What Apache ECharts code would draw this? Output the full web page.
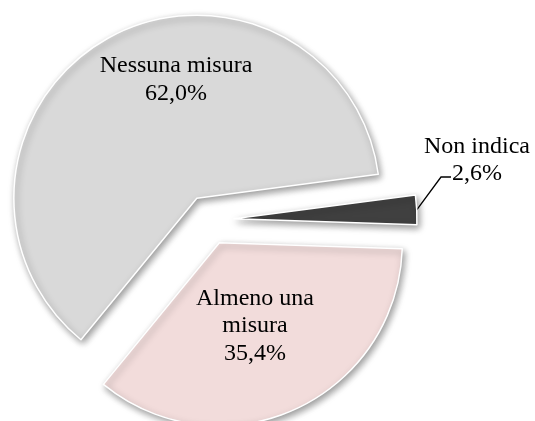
<!DOCTYPE html>
<html><head><meta charset="utf-8">
<script src="https://cdn.jsdelivr.net/npm/echarts@6/dist/echarts.min.js"></script>
<style>html,body{margin:0;padding:0;background:#fff}#c{width:535px;height:421px}</style>
</head><body><div id="c"></div>
<script>
const categories = ['Nessuna misura', 'Non indica', 'Almeno una misura'];
const labelNames = ['Nessuna misura', 'Non indica', 'Almeno una\nmisura'];
const values = [62.0, 2.6, 35.4];
const colors = ['#d9d9d9', '#404040', '#f2dcdb'];

const labelPos = [[176, 79.5], [477, 160], [255, 326]];

const CENTER = [209, 220];
const RADIUS = 183;
const EXPLODE = 25;
const START = -129.3;

const chart = echarts.init(document.getElementById('c'), null, {renderer: 'canvas'});
chart.setOption({
  animation: false,
  series: [{
    type: 'pie',
    center: CENTER,
    radius: RADIUS,
    startAngle: START,
    clockwise: true,
    selectedMode: 'multiple',
    selectedOffset: EXPLODE,
    emphasis: {disabled: true},
    label: {show: false},
    labelLine: {show: false},
    data: categories.map((n, i) => ({
      name: n, value: values[i], selected: true,
      itemStyle: {color: colors[i]},
      select: {itemStyle: {color: colors[i], borderColor: '#fff', borderWidth: 1.5}}
    })),
    itemStyle: {borderColor: '#fff', borderWidth: 1.5, shadowBlur: 7, shadowOffsetX: 2, shadowOffsetY: 3, shadowColor: 'rgba(0,0,0,0.4)'}
  }, {
    // label carrier: same data, invisible sectors reaching the exploded outer edge
    type: 'pie',
    center: CENTER,
    radius: RADIUS + EXPLODE,
    startAngle: START,
    clockwise: true,
    silent: true,
    avoidLabelOverlap: false,
    emphasis: {disabled: true},
    itemStyle: {color: 'rgba(0,0,0,0)', borderWidth: 0},
    data: categories.map((n, i) => ({
      name: n, value: values[i],
      label: {position: i === 1 ? 'outside' : 'inside'},
      labelLine: {show: i === 1, lineStyle: {color: '#000', width: 1.3}}
    })),
    label: {
      show: true,
      formatter: p => labelNames[p.dataIndex] + '\n' + p.value.toFixed(1).replace('.', ',') + '%',
      fontFamily: 'Liberation Serif', fontSize: 24, lineHeight: 27.5, color: '#000', align: 'center'
    },
    labelLayout: function (params) {
      const pos = labelPos[params.dataIndex];
      const out = {x: pos[0], y: pos[1], align: 'center', verticalAlign: 'middle'};
      if (params.dataIndex === 1 && params.labelLinePoints) {
        out.labelLinePoints = [params.labelLinePoints[0], [pos[0] - 36, pos[1] + 17], [pos[0] - 26, pos[1] + 17]];
      }
      return out;
    }
  }]
});
</script></body></html>
